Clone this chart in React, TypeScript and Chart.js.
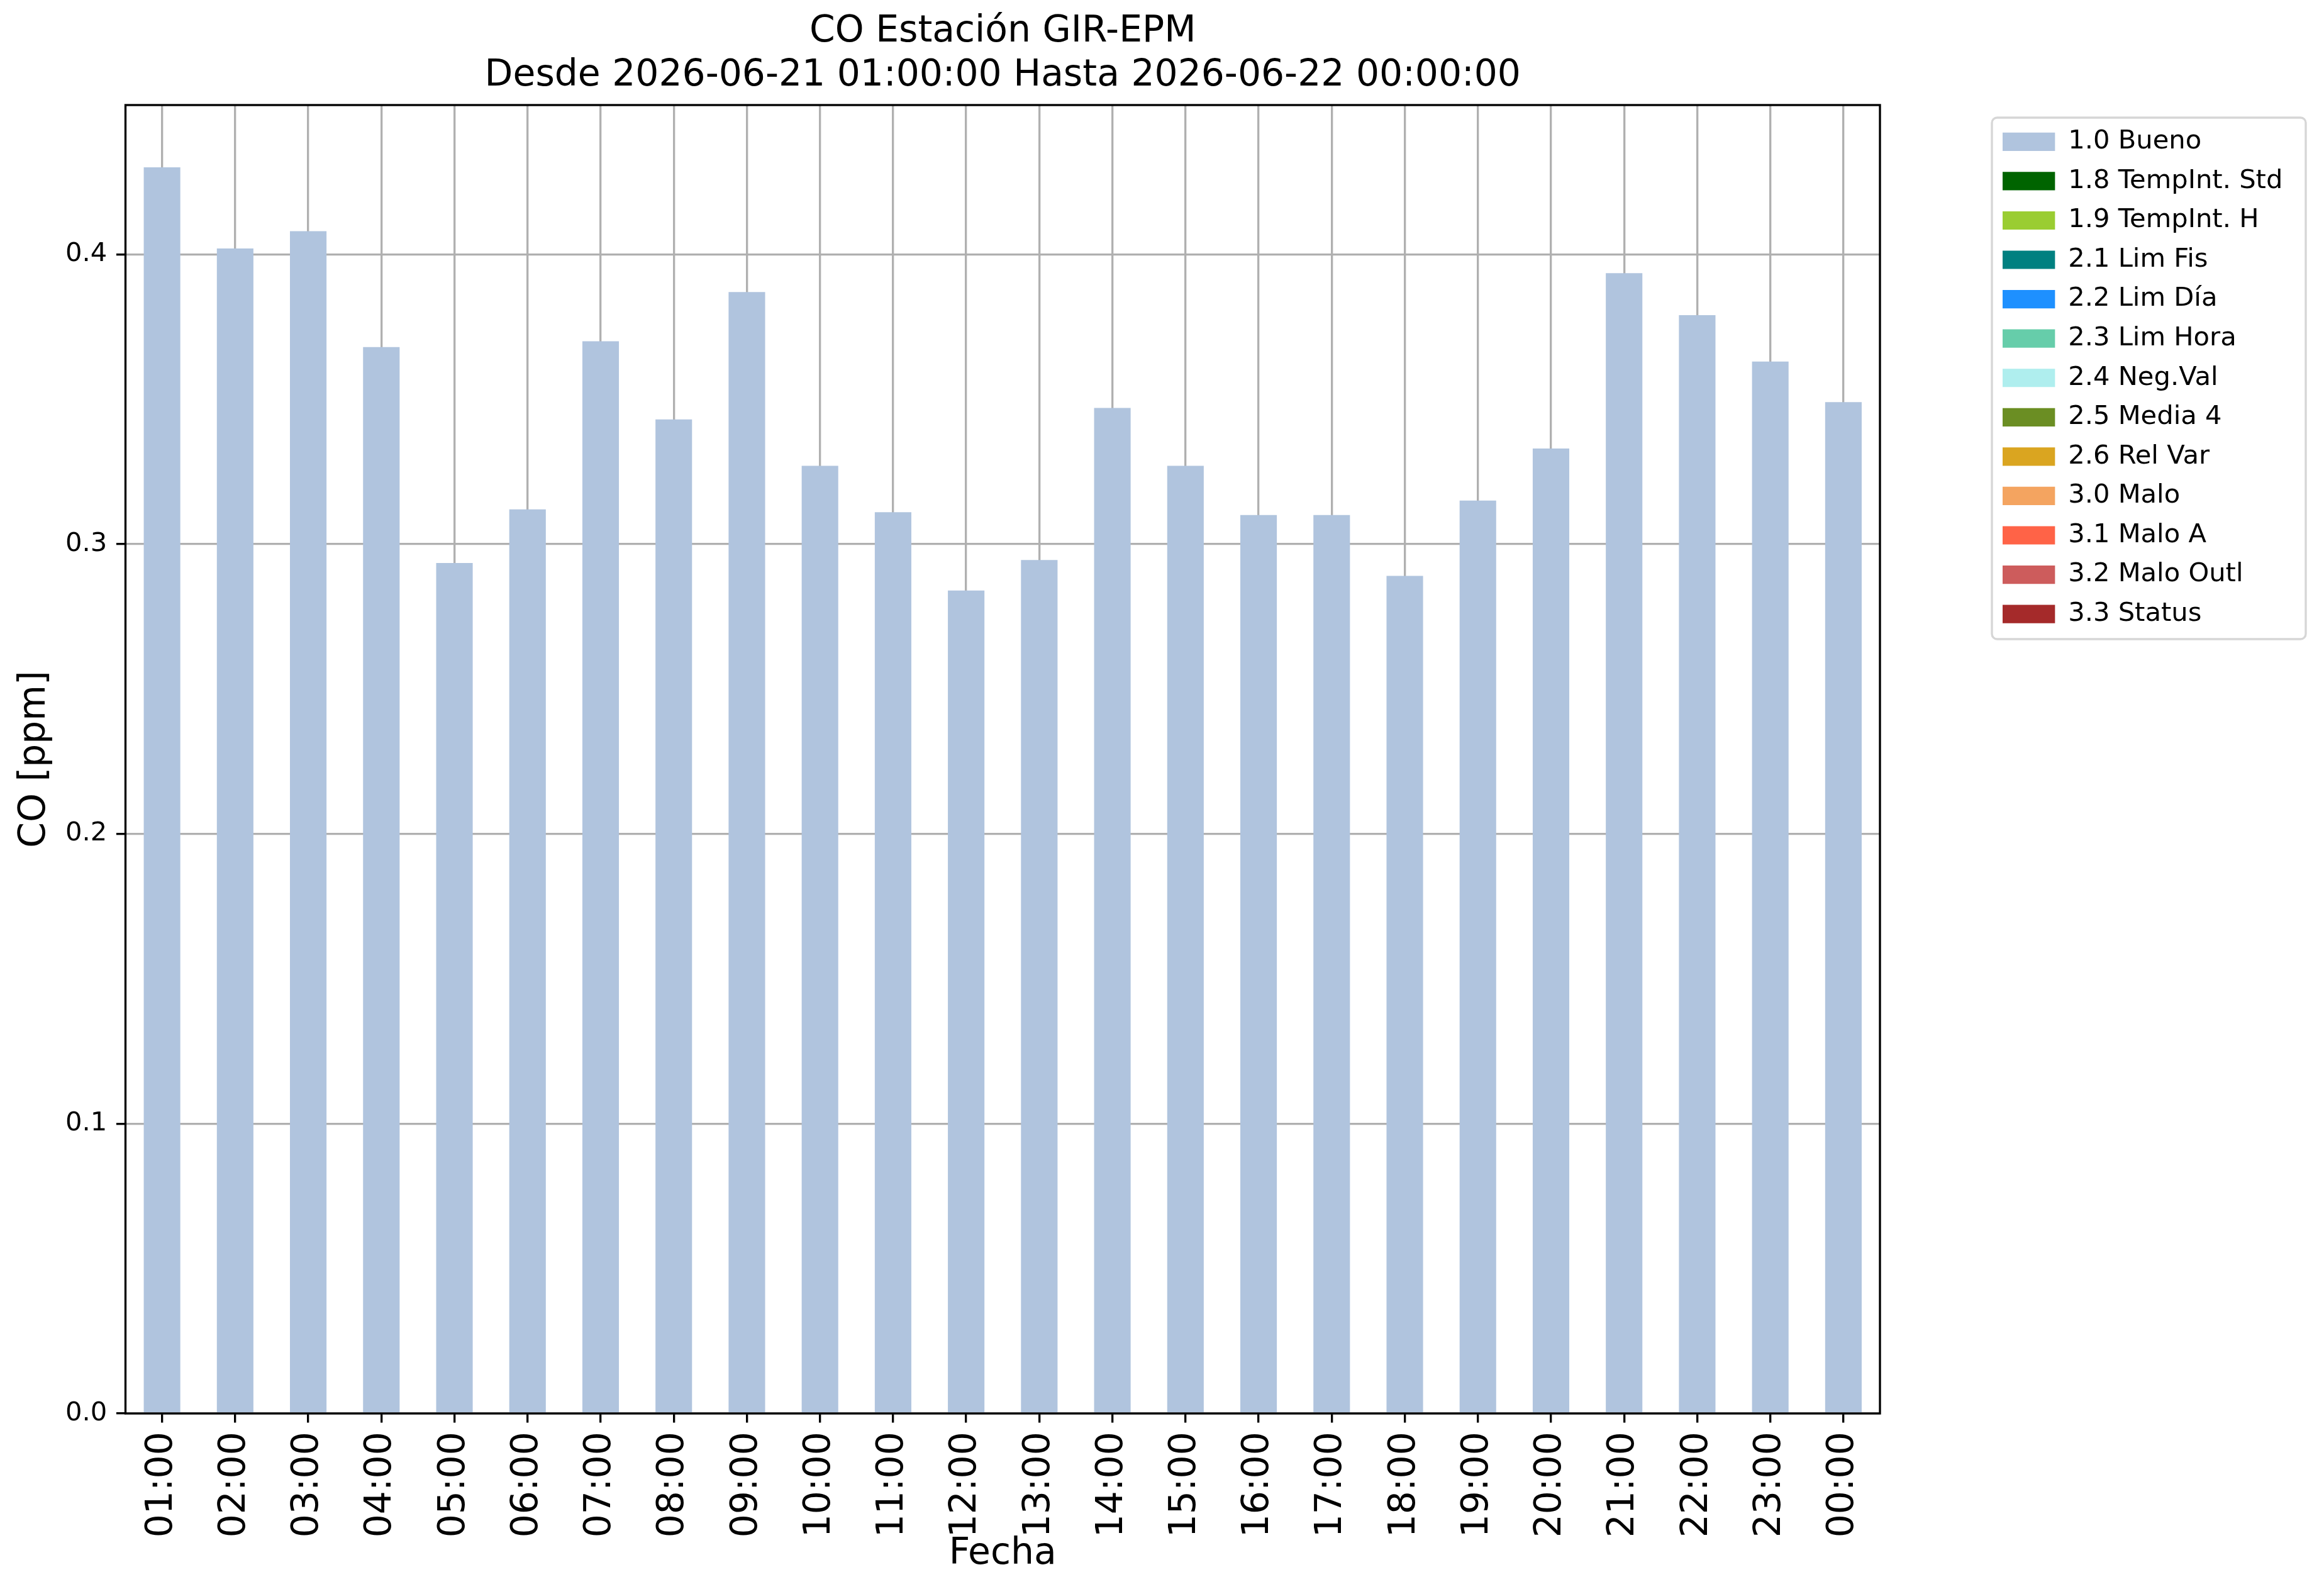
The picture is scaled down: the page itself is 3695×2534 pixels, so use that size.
import { useEffect, useRef } from "react";
import { Chart, registerables } from "chart.js";

Chart.register(...registerables);

// --- data ---
const hours = [
  "01:00", "02:00", "03:00", "04:00", "05:00", "06:00", "07:00", "08:00",
  "09:00", "10:00", "11:00", "12:00", "13:00", "14:00", "15:00", "16:00",
  "17:00", "18:00", "19:00", "20:00", "21:00", "22:00", "23:00", "00:00",
];

const coBueno = [
  0.43, 0.402, 0.408, 0.368, 0.2935, 0.312, 0.37, 0.343,
  0.387, 0.327, 0.311, 0.284, 0.2945, 0.347, 0.327, 0.31,
  0.31, 0.289, 0.315, 0.333, 0.3935, 0.379, 0.363, 0.349,
];

const flagLabels = [
  "1.0 Bueno", "1.8 TempInt. Std", "1.9 TempInt. H", "2.1 Lim Fis",
  "2.2 Lim Día", "2.3 Lim Hora", "2.4 Neg.Val", "2.5 Media 4",
  "2.6 Rel Var", "3.0 Malo", "3.1 Malo A", "3.2 Malo Outl", "3.3 Status",
];

const flagColors = [
  "#b0c4de", "#006400", "#9acd32", "#008080",
  "#1e90ff", "#66cdaa", "#afeeee", "#6b8e23",
  "#daa520", "#f4a460", "#ff6347", "#cd5c5c", "#a52a2a",
];

const yTicks = [0, 0.1, 0.2, 0.3, 0.4];
const yMax = 0.4515;

const titleLines = [
  "CO Estación GIR-EPM",
  "Desde 2026-06-21 01:00:00 Hasta 2026-06-22 00:00:00",
];

// --- layout (300 dpi, matplotlib-like) ---
const W = 3695;
const H = 2534;
const PT = 300 / 72;
const FONT = "DejaVu Sans";
const SMALL = 10 * PT;
const LARGE = 14 * PT;
const LW = 0.8 * PT;
const TICK = 3.5 * PT;
const GRID = "#b0b0b0";

const PLOT_LEFT = 199.5;
const PLOT_RIGHT = 2989;
const PLOT_BOTTOM = 2247;

const LEG_PAD = 20.9;
const LEG_X = 3184;
const LEG_Y = 204.5;
const FRAME = { x: 3167, y: 187, w: 499, h: 829, r: 8.3 };

const mplLook = {
  id: "mplLook",
  beforeLayout(chart: any) {
    const legend = chart.legend;
    if (legend && !legend.__fixed) {
      const fit = legend.fit;
      legend.fit = function () {
        fit.call(this);
        this.width = W - PLOT_RIGHT;
      };
      legend.__fixed = true;
    }
  },
  afterLayout(chart: any) {
    const legend = chart.legend;
    if (!legend) return;
    legend.left = LEG_X - LEG_PAD;
    legend.right = legend.left + legend.width;
    legend.top = LEG_Y - LEG_PAD;
    legend.bottom = legend.top + legend.height;
  },
  beforeDraw(chart: any) {
    const ctx = chart.ctx;
    ctx.save();
    ctx.fillStyle = "#fff";
    ctx.fillRect(0, 0, chart.width, chart.height);
    ctx.beginPath();
    ctx.roundRect(FRAME.x, FRAME.y, FRAME.w, FRAME.h, FRAME.r);
    ctx.fillStyle = "#fff";
    ctx.fill();
    ctx.lineWidth = LW;
    ctx.strokeStyle = "#d6d6d6";
    ctx.stroke();
    ctx.restore();
  },
  afterDraw(chart: any) {
    const { ctx, chartArea: a } = chart;
    ctx.save();
    ctx.lineWidth = LW;
    ctx.strokeStyle = "#000";
    ctx.strokeRect(a.left, a.top, a.right - a.left, a.bottom - a.top);
    ctx.restore();
  },
};

export default function App() {
  const canvasRef = useRef<HTMLCanvasElement | null>(null);

  useEffect(() => {
    if (!canvasRef.current) return;

    const datasets = flagLabels.map((label, i) => ({
      label,
      data: i === 0 ? coBueno : [],
      backgroundColor: flagColors[i],
      borderWidth: 0,
      barPercentage: 0.5,
      categoryPercentage: 1.0,
    }));

    const chart = new Chart(canvasRef.current, {
      type: "bar",
      data: { labels: hours, datasets },
      plugins: [mplLook],
      options: {
        animation: false,
        responsive: false,
        devicePixelRatio: 1,
        events: [],
        layout: { padding: 0 },
        plugins: {
          tooltip: { enabled: false },
          title: {
            display: true,
            fullSize: false,
            text: titleLines,
            color: "#000",
            font: { family: FONT, size: LARGE, weight: "normal", lineHeight: 1.2 },
            padding: { top: 16, bottom: 11 },
          },
          legend: {
            position: "right",
            align: "start",
            labels: {
              boxWidth: 2 * SMALL,
              boxHeight: 0.7 * SMALL,
              padding: LEG_PAD,
              color: "#000",
              font: { family: FONT, size: SMALL },
            },
          },
        },
        scales: {
          x: {
            stacked: true,
            offset: true,
            z: 1,
            afterFit: (s: any) => {
              s.height = H - PLOT_BOTTOM;
            },
            grid: {
              offset: false,
              color: GRID,
              lineWidth: LW,
              tickColor: "#000",
              tickWidth: LW,
              tickLength: TICK,
            },
            border: { display: false },
            ticks: {
              autoSkip: false,
              minRotation: 90,
              maxRotation: 90,
              padding: TICK,
              color: "#000",
              font: { family: FONT, size: LARGE },
            },
            title: {
              display: true,
              text: "Fecha",
              color: "#000",
              font: { family: FONT, size: LARGE, lineHeight: 1.2 },
              padding: { top: 0, bottom: 28 },
            },
          },
          y: {
            stacked: true,
            min: 0,
            max: yMax,
            z: 1,
            afterFit: (s: any) => {
              s.width = PLOT_LEFT;
            },
            afterBuildTicks: (s: any) => {
              s.ticks = yTicks.map((v) => ({ value: v }));
            },
            grid: {
              color: GRID,
              lineWidth: LW,
              tickColor: "#000",
              tickWidth: LW,
              tickLength: TICK,
            },
            border: { display: false },
            ticks: {
              padding: TICK,
              color: "#000",
              font: { family: FONT, size: SMALL },
              callback: (v: any) => Number(v).toFixed(1),
            },
            title: {
              display: true,
              text: "CO [ppm]",
              color: "#000",
              font: { family: FONT, size: LARGE, lineHeight: 1.2 },
              padding: { top: 20.5, bottom: 0 },
            },
          },
        },
      },
    });

    return () => chart.destroy();
  }, []);

  return (
    <div style={{ position: "fixed", left: 0, top: 0, width: W, height: H, background: "#fff" }}>
      <canvas ref={canvasRef} width={W} height={H} style={{ display: "block", width: W, height: H }} />
    </div>
  );
}
